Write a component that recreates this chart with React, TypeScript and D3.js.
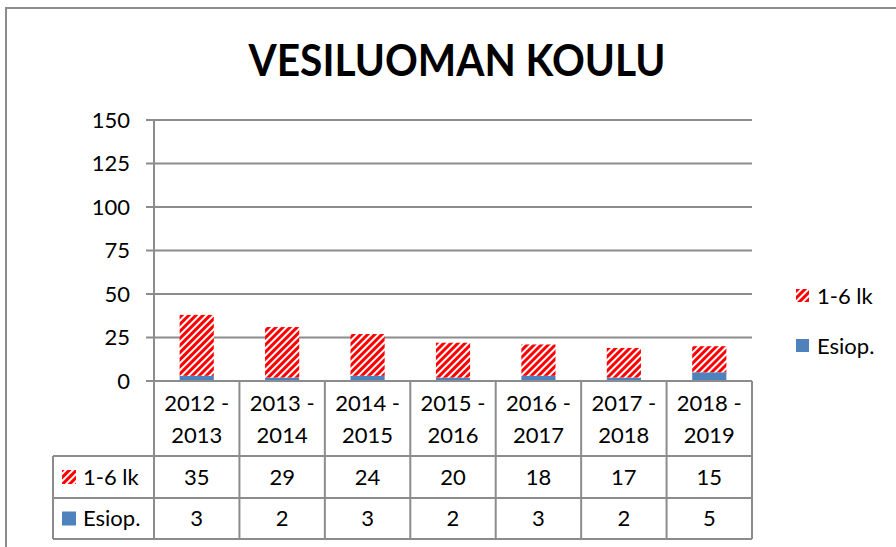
import React from 'react';
import * as d3 from 'd3';

const years = ['2012 - 2013', '2013 - 2014', '2014 - 2015', '2015 - 2016', '2016 - 2017', '2017 - 2018', '2018 - 2019'];
const lk16 = [35, 29, 24, 20, 18, 17, 15];
const esiop = [3, 2, 3, 2, 3, 2, 5];
const yTicks = [0, 25, 50, 75, 100, 125, 150];

const W = 896, H = 547;
const FONT = 'Lato, "Open Sans", sans-serif';
const GRID = '#8c8c8c';
const BLUE = '#4f81bd';
const FS = 22;

export default function App() {
  const margin = { left: 154, right: 144, top: 120, bottom: 166 };
  const x = d3.scaleBand<string>().domain(years).range([margin.left, W - margin.right]).paddingInner(0).paddingOuter(0);
  const y = d3.scaleLinear().domain([0, 150]).range([H - margin.bottom, margin.top]);
  const barW = x.bandwidth() * 0.4;

  const rowTop = y(0);
  const row1 = 456, row2 = 498, tableBottom = 539, tableLeft = 53;

  const series = [
    { name: '1-6 lk', values: lk16, fill: 'url(#hatch)' },
    { name: 'Esiop.', values: esiop, fill: BLUE }
  ];

  return (
    <svg width={W} height={H} style={{ position: 'absolute', left: 0, top: 0, background: '#fff' }} fontFamily={FONT}>
      <defs>
        <pattern id="hatch" patternUnits="userSpaceOnUse" width="5" height="5" patternTransform="rotate(45)">
          <rect width="5" height="5" fill="#fff" />
          <rect width="3" height="5" fill="#ff0000" />
        </pattern>
      </defs>
      {/* chart frame */}
      <rect x={6} y={8} width={W + 20} height={H + 20} fill="none" stroke={GRID} strokeWidth={2} />

      <text x={457} y={76} textAnchor="middle" fontSize={44} fontWeight="bold" fill="#000" textLength={417} lengthAdjust="spacingAndGlyphs">VESILUOMAN KOULU</text>

      {/* grid + y axis */}
      {yTicks.map(t => (
        <g key={t}>
          <line x1={margin.left - 8} x2={W - margin.right} y1={y(t)} y2={y(t)} stroke={GRID} strokeWidth={2} />
          <text x={130} y={y(t)} dy="0.36em" textAnchor="end" fontSize={FS} fill="#000">{t}</text>
        </g>
      ))}
      <line x1={margin.left} x2={margin.left} y1={y(150)} y2={tableBottom} stroke={GRID} strokeWidth={2} />

      {/* stacked bars: Esiop. bottom, 1-6 lk on top */}
      {years.map((yr, i) => {
        const bx = (x(yr) as number) + (x.bandwidth() - barW) / 2;
        return (
          <g key={yr}>
            <rect x={bx} y={y(esiop[i])} width={barW} height={y(0) - y(esiop[i])} fill={BLUE} />
            <rect x={bx} y={y(esiop[i] + lk16[i])} width={barW} height={y(esiop[i]) - y(esiop[i] + lk16[i])} fill="url(#hatch)" />
          </g>
        );
      })}

      {/* legend */}
      {series.map((s, i) => (
        <g key={s.name} transform={`translate(796, ${289 + i * 50})`}>
          <rect width={13} height={13} fill={s.fill} />
          <text x={21} y={7} dy="0.36em" fontSize={FS} fill="#000">{s.name}</text>
        </g>
      ))}

      {/* data table */}
      <line x1={margin.left} x2={W - margin.right} y1={rowTop} y2={rowTop} stroke={GRID} strokeWidth={2} />
      {[row1, row2, tableBottom].map(r => (
        <line key={r} x1={tableLeft} x2={W - margin.right} y1={r} y2={r} stroke={GRID} strokeWidth={2} />
      ))}
      <line x1={tableLeft} x2={tableLeft} y1={row1} y2={tableBottom} stroke={GRID} strokeWidth={2} />
      {years.map(yr => (
        <line key={yr} x1={(x(yr) as number) + x.bandwidth()} x2={(x(yr) as number) + x.bandwidth()} y1={rowTop} y2={tableBottom} stroke={GRID} strokeWidth={2} />
      ))}
      {years.map(yr => {
        const cx = (x(yr) as number) + x.bandwidth() / 2;
        const [a, b] = yr.split(' - ');
        return (
          <g key={yr}>
            <text x={cx} y={403} dy="0.36em" textAnchor="middle" fontSize={FS} fill="#000">{a} -</text>
            <text x={cx} y={435} dy="0.36em" textAnchor="middle" fontSize={FS} fill="#000">{b}</text>
          </g>
        );
      })}
      {series.map((s, si) => {
        const cy = si === 0 ? (row1 + row2) / 2 : (row2 + tableBottom) / 2;
        return (
          <g key={s.name}>
            <rect x={62} y={cy - 7} width={14} height={14} fill={s.fill} />
            <text x={83} y={cy} dy="0.36em" fontSize={FS} fill="#000">{s.name}</text>
            {s.values.map((v, i) => (
              <text key={i} x={(x(years[i]) as number) + x.bandwidth() / 2} y={cy} dy="0.36em" textAnchor="middle" fontSize={FS} fill="#000">{v}</text>
            ))}
          </g>
        );
      })}
    </svg>
  );
}
